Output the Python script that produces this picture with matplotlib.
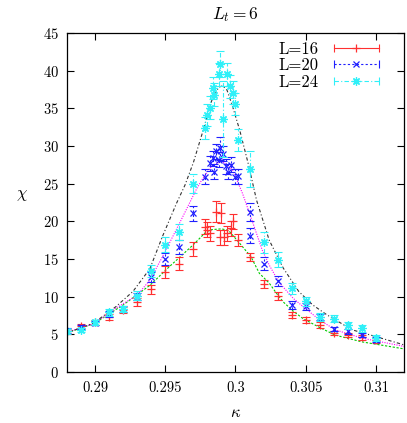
import matplotlib
matplotlib.use("Agg")
import matplotlib.pyplot as plt
from matplotlib.lines import Line2D
from matplotlib.legend_handler import HandlerTuple, HandlerLine2D
from matplotlib.ticker import FuncFormatter, MultipleLocator

plt.rcParams['font.family'] = 'serif'
plt.rcParams['font.serif'] = ['cmr10', 'DejaVu Serif']
plt.rcParams['mathtext.fontset'] = 'cm'
plt.rcParams['axes.formatter.use_mathtext'] = True

# --- dane ---
k16 = [0.288, 0.289, 0.290, 0.291, 0.292, 0.293, 0.294, 0.295, 0.296, 0.297,
       0.2978, 0.2980, 0.2982, 0.2986, 0.2989, 0.2990, 0.2992, 0.2994, 0.2997, 0.2998,
       0.3002, 0.301, 0.302, 0.303, 0.304, 0.305, 0.306, 0.307, 0.308, 0.309, 0.310]
chi16 = [5.4, 6.1, 6.6, 7.3, 8.2, 9.3, 11.0, 13.3, 14.4, 16.3,
         19.3, 18.9, 18.4, 21.3, 17.9, 21.1, 17.9, 18.4, 19.1, 20.0,
         17.5, 15.3, 11.7, 10.1, 7.6, 6.9, 6.2, 5.2, 4.9, 4.6, 4.2]
err16 = [0.3, 0.3, 0.3, 0.4, 0.4, 0.5, 0.6, 0.8, 0.9, 0.9,
         1.0, 1.0, 1.0, 1.4, 1.0, 1.3, 1.0, 1.0, 1.0, 1.0,
         0.8, 0.5, 0.5, 0.5, 0.4, 0.4, 0.4, 0.3, 0.3, 0.3, 0.3]

k20 = [0.288, 0.289, 0.290, 0.291, 0.292, 0.293, 0.294, 0.295, 0.296, 0.297,
       0.2978, 0.2982, 0.2984, 0.2985, 0.2986, 0.2988, 0.2989, 0.2991, 0.2993, 0.2995,
       0.2997, 0.3000, 0.3002, 0.301, 0.301, 0.302, 0.303, 0.304, 0.305, 0.306,
       0.307, 0.308, 0.309, 0.310]
chi20 = [5.5, 6.0, 6.5, 7.7, 8.4, 10.0, 12.6, 15.0, 16.6, 21.1,
         25.9, 27.7, 28.4, 26.6, 29.3, 28.2, 29.7, 29.0, 27.3, 26.6,
         27.5, 25.9, 26.0, 21.2, 18.1, 14.4, 12.1, 8.9, 8.7, 7.3,
         5.7, 5.4, 4.9, 4.3]
err20 = [0.3, 0.3, 0.3, 0.4, 0.4, 0.5, 0.7, 0.8, 0.9, 1.0,
         1.0, 1.0, 1.0, 1.0, 1.0, 1.0, 1.5, 1.0, 1.0, 1.0,
         1.0, 1.0, 1.0, 1.2, 1.0, 0.8, 0.7, 0.5, 0.5, 0.4,
         0.3, 0.3, 0.3, 0.3]

k24 = [0.288, 0.289, 0.290, 0.291, 0.292, 0.293, 0.294, 0.295, 0.296, 0.297,
       0.2978, 0.2980, 0.2982, 0.2984, 0.2985, 0.2988, 0.2989, 0.2991, 0.2994, 0.2996,
       0.2998, 0.3000, 0.3002, 0.301, 0.302, 0.303, 0.304, 0.305, 0.306, 0.307,
       0.308, 0.309, 0.310]
chi24 = [5.4, 5.6, 6.6, 7.9, 8.4, 10.1, 13.4, 16.9, 18.6, 25.0,
         32.4, 34.1, 35.1, 37.7, 36.8, 39.5, 40.9, 33.6, 39.5, 37.9,
         37.1, 35.6, 30.8, 27.0, 17.2, 14.9, 11.1, 9.4, 7.3, 7.1,
         6.2, 5.8, 4.5]
err24 = [0.3, 0.3, 0.3, 0.4, 0.4, 0.6, 0.8, 1.0, 1.1, 1.3,
         1.5, 1.5, 1.5, 1.5, 1.5, 1.5, 1.7, 5.0, 1.5, 1.5,
         1.5, 1.5, 1.5, 2.4, 1.4, 1.0, 0.7, 0.6, 0.5, 0.5,
         0.5, 0.5, 0.4]

# krzywe dopasowania (odczytane punkty)
kf16 = [0.288, 0.2899, 0.2920, 0.2939, 0.2953, 0.2970, 0.2979, 0.2983, 0.2990, 0.2995,
        0.3002, 0.3011, 0.3017, 0.3024, 0.3029, 0.3034, 0.3041, 0.3048, 0.3060, 0.3071,
        0.3090, 0.3119]
cf16 = [5.2, 6.4, 8.9, 11.5, 14.0, 16.9, 18.6, 18.9, 19.0, 18.8,
        17.3, 15.3, 13.1, 11.8, 10.5, 9.3, 8.1, 7.1, 5.9, 4.9,
        4.0, 3.1]

kf20 = [0.288, 0.2899, 0.2915, 0.2930, 0.2939, 0.2948, 0.2960, 0.2972, 0.2976, 0.2982,
        0.2986, 0.2991, 0.2998, 0.3005, 0.3012, 0.3019, 0.3024, 0.3031, 0.3041, 0.3048,
        0.3060, 0.3071, 0.3090, 0.3120]
cf20 = [5.3, 6.4, 8.5, 10.2, 12.2, 15.3, 19.7, 24.2, 25.5, 27.1,
        27.7, 27.9, 26.8, 23.7, 20.0, 16.2, 14.2, 11.9, 9.8, 8.7,
        6.9, 5.6, 4.5, 3.4]

kf24 = [0.288, 0.2899, 0.2915, 0.2927, 0.2939, 0.2948, 0.2958, 0.2964, 0.2970, 0.2977,
        0.2983, 0.2988, 0.2991, 0.2994, 0.2998, 0.3003, 0.3009, 0.3015, 0.3024, 0.3034,
        0.3045, 0.3055, 0.3065, 0.3083, 0.3100, 0.3120]
cf24 = [5.2, 6.5, 8.7, 10.7, 13.7, 18.0, 22.4, 24.8, 27.8, 32.1,
        36.0, 37.8, 38.0, 37.4, 35.2, 32.1, 27.7, 22.8, 17.5, 13.8,
        10.7, 8.9, 7.6, 5.6, 4.7, 3.6]


class EndsHandler(HandlerLine2D):
    # zachowuje markevery z oryginalnego uchwytu (końcówki / środek)
    def create_artists(self, legend, orig_handle, xdescent, ydescent, width, height, fontsize, trans):
        arts = super().create_artists(legend, orig_handle, xdescent, ydescent,
                                      width, height, fontsize, trans)
        for a in arts:
            a.set_markevery(orig_handle.get_markevery())
        return arts


# --- rysowanie ---
fig = plt.figure(figsize=(4.07, 4.23), dpi=100)
ax = fig.add_axes([67 / 407, 1 - 372 / 423, (404 - 67) / 407, (372 - 33) / 423])

ax.plot(kf16, cf16, color='#00cc00', ls=(0, (2, 1.5)), lw=0.8)
ax.plot(kf20, cf20, color='#ff00ff', ls=(0, (1, 1.2)), lw=0.8)
ax.plot(kf24, cf24, color='#333333', ls=(0, (3, 2, 1, 2)), lw=0.8)

series = [
    (k16, chi16, err16, '#ff3030', '+', '-', 6),
    (k20, chi20, err20, '#2020ff', 'x', (0, (2, 2)), 5),
    (k24, chi24, err24, '#30f0f8', (8, 2, 0), (0, (4, 2, 1, 2)), 6),
]
for k, c, e, col, mk, els, ms in series:
    cont = ax.errorbar(k, c, yerr=e, fmt='none', ecolor=col, elinewidth=0.8,
                       capsize=3, capthick=0.8)
    cont[2][0].set_linestyle(els)
    ax.plot(k, c, ls='none', marker=mk, color=col, ms=ms, mew=0.9)

ax.set_xlim(0.288, 0.312)
ax.set_ylim(0, 45)
ax.xaxis.set_major_locator(MultipleLocator(0.005))
ax.yaxis.set_major_locator(MultipleLocator(5))
ax.xaxis.set_major_formatter(FuncFormatter(lambda v, p: f'{v:g}'))
ax.tick_params(direction='in', top=True, right=True, length=5, width=0.8, labelsize=10.5)
ax.tick_params(axis='x', pad=7)
ax.tick_params(axis='y', pad=6)
for s in ax.spines.values():
    s.set_linewidth(0.9)

ax.set_xlabel(r'$\kappa$', fontsize=12, labelpad=7)
ax.set_ylabel(r'$\chi$', fontsize=12, rotation=0)
ax.yaxis.set_label_coords(-0.135, 0.5)
ax.set_title(r'$L_t = 6$', fontsize=12.5, pad=10)

# legenda w stylu gnuplota: tekst po lewej, linia z końcówkami i znacznik
handles = []
for k, c, e, col, mk, els, ms in series:
    bar = Line2D([], [], color=col, ls=els, lw=0.8, marker='|', ms=6, mew=0.8, markevery=[0, 2])
    pt = Line2D([], [], color=col, ls='none', marker=mk, ms=ms, mew=0.9, markevery=[1])
    handles.append((bar, pt))
ax.legend(handles, ['L=16', 'L=20', 'L=24'],
          handler_map={tuple: HandlerTuple(ndivide=1), Line2D: EndsHandler()},
          numpoints=3, markerfirst=False, frameon=False, loc='upper right',
          bbox_to_anchor=(0.975, 1.01), fontsize=12, handlelength=3.3, labelspacing=0.08,
          handletextpad=0.6, borderaxespad=0.3)

fig.savefig('out.png', dpi=100)
